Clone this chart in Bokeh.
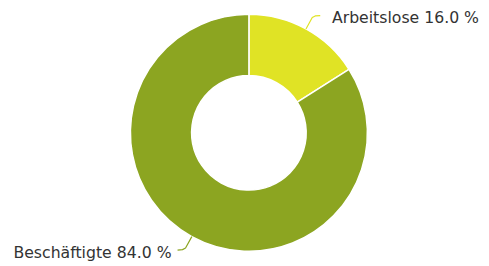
import numpy as np
from bokeh.plotting import figure
from bokeh.models import Range1d, ColumnDataSource
from bokeh.core.properties import value
from bokeh.embed import file_html
from bokeh.resources import INLINE

categories = ["Arbeitslose", "Beschäftigte"]
shares = [16.0, 84.0]
colors = ["#e0e325", "#8ca521"]

W, H = 481, 262
p = figure(width=W, height=H, output_backend="svg", toolbar_location=None,
           x_range=Range1d(0, W), y_range=Range1d(266 - H, 266), min_border=0)
p.axis.visible = False
p.grid.visible = False
p.outline_line_color = None

cx, cy = 248.4, 266 - 132.3
r_out, r_in = 118.5, 57.3

fr = np.array(shares) / sum(shares)
cum = np.concatenate([[0], np.cumsum(fr)])
# clockwise from top
start = np.pi / 2 - cum[1:] * 2 * np.pi
end = np.pi / 2 - cum[:-1] * 2 * np.pi
src = ColumnDataSource(dict(start=start, end=end, color=colors))
p.annular_wedge(x=cx, y=cy, inner_radius=r_in, outer_radius=r_out,
                start_angle="start", end_angle="end", color="color",
                line_color="white", line_width=1.5, source=src)

mid = np.pi / 2 - (cum[:-1] + fr / 2) * 2 * np.pi
for i, cat in enumerate(categories):
    a = mid[i]
    ex, ey = cx + r_out * np.cos(a), cy + r_out * np.sin(a)
    bx, by = cx + (r_out + 13) * np.cos(a), cy + (r_out + 13) * np.sin(a)
    side = 1 if np.cos(a) >= 0 else -1
    sy = np.sign(np.sin(a))
    xs = [ex, bx, bx + side * 3, bx + side * 8]
    ys = [ey, by, by + sy * 1.6, by + sy * 2]
    p.line(xs, ys, line_color=colors[i], line_width=1.2)
    lbl = f"{cat} {shares[i]:.1f} %"
    tx = xs[-1] + (11.7 if side > 0 else -6)
    p.text([tx], [ys[-1] - 2.2], text=[lbl], text_font=value("DejaVu Sans"),
           text_font_size="15.7px", text_color="#333333",
           text_align="left" if side > 0 else "right", text_baseline="middle")

open("out.html", "w").write(file_html(p, INLINE))
